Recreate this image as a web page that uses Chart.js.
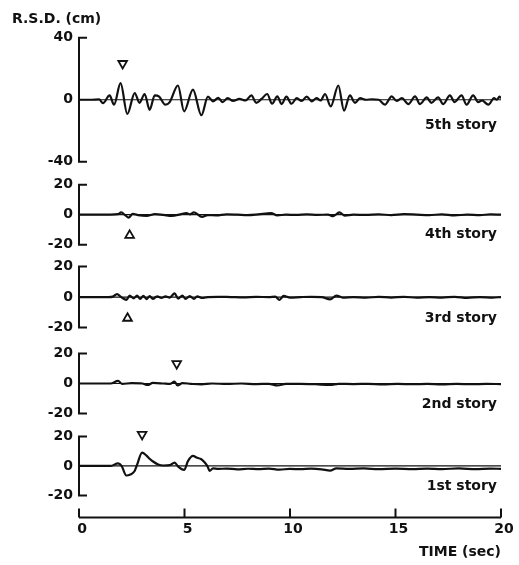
<!DOCTYPE html>
<html>
<head>
<meta charset="utf-8">
<script src="https://cdn.jsdelivr.net/npm/chart.js@4.4.0/dist/chart.umd.min.js"></script>
<style>
  html, body { margin: 0; padding: 0; background: #fff; }
  canvas { display: block; }
</style>
</head>
<body>
<canvas id="rsd" width="519" height="565"></canvas>
<script>
// Relative story displacement traces, [time (sec), R.S.D. (cm)]
const story5 = [[0,0],[0.6,0],[0.95,0.2],[1.14,-2.2],[1.45,2.8],[1.66,-3.2],[1.97,10.7],[2.29,-9.2],[2.64,4.3],[2.87,-2],[3.11,3.7],[3.35,-6.5],[3.59,2.8],[3.8,2.0],[4.09,-3.2],[4.3,-1.5],[4.69,9.2],[4.98,-7.5],[5.4,6.5],[5.8,-10],[6.11,2],[6.35,-1],[6.6,1.2],[6.8,-1.5],[7.05,1],[7.3,-0.8],[7.6,0.5],[7.9,-0.5],[8.17,2.8],[8.4,-2],[8.65,0.5],[8.92,3.7],[9.15,-2.6],[9.4,2.2],[9.6,-2.8],[9.83,2],[10.07,-2.6],[10.32,1],[10.55,-0.8],[10.79,2],[11.03,-1],[11.26,1],[11.45,-0.5],[11.66,3.7],[11.93,-4.3],[12.29,9.2],[12.56,-7],[12.84,2.8],[13.08,-2],[13.32,1],[13.6,0],[13.9,0.3],[14.2,0],[14.5,-3.2],[14.82,2.2],[15.05,-0.8],[15.3,1],[15.61,-2.8],[15.93,2.2],[16.16,-2.8],[16.48,1.5],[16.7,-2],[17.02,1.5],[17.26,-2.8],[17.58,2.8],[17.8,-1.5],[18.13,2.8],[18.37,-3.2],[18.68,2.8],[18.92,-1.5],[19.1,-0.5],[19.4,-3.2],[19.67,1],[19.8,0],[19.93,2],[20,1]];
const story4 = [[0,0],[1.5,0],[1.85,0.3],[2.0,1.5],[2.2,-0.5],[2.35,-2],[2.55,0.5],[2.8,-0.3],[3.2,-0.8],[3.6,0.3],[4.0,-0.2],[4.4,-0.8],[4.8,0.2],[5.09,1.1],[5.25,0.2],[5.45,1.5],[5.83,-1.5],[6.1,-0.3],[6.5,-0.5],[7.0,0.2],[7.5,0],[8.0,-0.3],[8.5,0.2],[9.1,1],[9.4,-0.5],[9.8,0],[10.3,-0.2],[10.8,0.2],[11.3,-0.1],[11.8,0],[12.05,-1],[12.34,1.5],[12.6,-0.6],[13.0,0],[13.6,-0.2],[14.2,0.2],[14.8,-0.3],[15.4,0.3],[16.0,0],[16.6,-0.3],[17.2,0.2],[17.8,-0.5],[18.4,0],[19.0,-0.3],[19.5,0.2],[20,0]];
const story3 = [[0,0],[1.4,0],[1.6,0.3],[1.8,2],[2.0,0],[2.25,-1.8],[2.4,1],[2.6,-0.8],[2.75,1],[2.9,-1.2],[3.05,0.8],[3.2,-1.3],[3.35,0.6],[3.5,-1.2],[3.7,0.5],[3.9,-0.5],[4.1,0.4],[4.3,-0.3],[4.53,2.4],[4.7,-1],[4.9,1],[5.05,-1.2],[5.25,0.6],[5.45,-1.2],[5.6,0.5],[5.85,-0.6],[6.1,0],[6.6,0.2],[7.2,0],[7.8,-0.2],[8.4,0.1],[9.0,0],[9.3,0.3],[9.5,-1.8],[9.7,0.8],[10.0,-0.3],[10.5,0],[11.0,0.2],[11.5,0],[11.9,-1.5],[12.2,1],[12.5,-0.3],[13.0,0],[13.6,-0.4],[14.2,0.2],[14.8,-0.3],[15.4,0.2],[16.0,-0.4],[16.6,0],[17.2,-0.3],[17.8,0.2],[18.4,-0.5],[19.0,0],[19.6,-0.3],[20,0]];
const story2 = [[0,0],[1.5,0],[1.85,1.8],[2.05,-0.3],[2.5,0.3],[3.0,0],[3.25,-1],[3.5,0.4],[4.0,0],[4.3,-0.3],[4.53,1.3],[4.67,-1.3],[4.9,0.3],[5.3,-0.2],[5.8,-0.6],[6.3,0],[7.0,-0.3],[7.7,0],[8.4,-0.4],[9.0,-0.2],[9.4,-1.3],[9.8,-0.3],[10.5,-0.2],[11.2,-0.5],[11.9,-1],[12.3,-0.2],[13.0,-0.4],[13.7,-0.2],[14.4,-0.6],[15.1,-0.3],[15.8,-0.5],[16.5,-0.2],[17.2,-0.6],[17.9,-0.3],[18.6,-0.5],[19.3,-0.2],[20,-0.4]];
const story1 = [[0,0],[1.5,0],[1.85,1.8],[2.02,0],[2.24,-6.5],[2.46,-5.6],[2.62,-3.8],[2.75,0.7],[2.99,9],[3.2,7],[3.36,4.7],[3.51,3],[3.75,1],[4.0,0.3],[4.3,0.5],[4.53,2.3],[4.7,-0.5],[4.98,-2.7],[5.17,3.4],[5.4,6.8],[5.6,5.5],[5.78,4.7],[5.95,2.5],[6.1,-0.5],[6.19,-3.4],[6.35,-1.6],[6.6,-2],[7.0,-1.8],[7.5,-2.3],[8.0,-1.9],[8.5,-2.2],[9.0,-1.8],[9.5,-2.5],[10,-2],[10.5,-2.2],[11,-1.8],[11.5,-2.3],[11.9,-3.2],[12.2,-1.7],[12.8,-2],[13.5,-1.7],[14.2,-2.2],[15,-1.8],[15.8,-2.2],[16.5,-1.8],[17.2,-2.1],[18,-1.7],[18.8,-2.2],[19.5,-1.8],[20,-2]];

// peak markers (5th .. 1st story)
const markerTimes = [2.07, 2.4, 2.3, 4.63, 2.99];
const markerValues = [23.4, -13.8, -13.9, 13.3, 21.4];
const markerDown = [true, false, false, true, true];

const storyLabels = ['5th story', '4th story', '3rd story', '2nd story', '1st story'];
const yTicksTop = [-40, 0, 40];
const yTicksLower = [-20, 0, 20];
const xTicks = [0, 5, 10, 15, 20];

const FONT = 'DejaVu Sans';
const INK = '#111';

// panel layout, top to bottom; weight = share of plot height
const panels = [
    { id: 'y5', data: story5, weight: 141.5, min: -47.42, max: 43.87, ticks: yTicksTop, labelDy: 26 },
    { id: 'y4', data: story4, weight: 82.5, min: -27.33, max: 27.67, ticks: yTicksLower, labelDy: 20 },
    { id: 'y3', data: story3, weight: 85, min: -28.52, max: 27.21, ticks: yTicksLower, labelDy: 21 },
    { id: 'y2', data: story2, weight: 84.5, min: -27.67, max: 28.67, ticks: yTicksLower, labelDy: 21 },
    { id: 'y1', data: story1, weight: 92.5, min: -34.92, max: 27.8, ticks: yTicksLower, labelDy: 20 }
];

const toPoints = arr => arr.map(p => ({ x: p[0], y: p[1] }));

const datasets = [];
const scales = {
    x: {
        type: 'linear',
        min: 0,
        max: 20,
        afterBuildTicks: s => { s.ticks = xTicks.map(v => ({ value: v })); },
        grid: { display: false, drawTicks: false },
        border: { display: false },
        ticks: { color: INK, padding: 4, labelOffset: 3, font: { family: FONT, size: 14, weight: 'bold' } },
        title: {
            display: true,
            text: 'TIME (sec)',
            align: 'end',
            color: INK,
            padding: { top: 2, bottom: 0 },
            font: { family: FONT, size: 14, weight: 'bold' }
        }
    }
};

// left boxes are placed in reverse order, so add the bottom panel first
panels.slice().reverse().forEach(p => {
    scales[p.id] = {
        type: 'linear',
        position: 'left',
        stack: 'rsd',
        stackWeight: p.weight,
        min: p.min,
        max: p.max,
        afterBuildTicks: s => { s.ticks = p.ticks.map(v => ({ value: v })); },
        afterFit: s => { s.width = 67; },
        grid: { display: false, drawTicks: false },
        border: { display: false },
        ticks: { color: INK, padding: 6, font: { family: FONT, size: 14, weight: 'bold' } }
    };
});

panels.forEach((p, i) => {
    // zero line
    datasets.push({
        data: [{ x: 0, y: 0 }, { x: 20, y: 0 }],
        yAxisID: p.id,
        borderColor: INK,
        borderWidth: 1.2,
        pointRadius: 0
    });
    datasets.push({
        data: toPoints(p.data),
        yAxisID: p.id,
        borderColor: INK,
        borderWidth: 2.2,
        pointRadius: 0,
        cubicInterpolationMode: 'monotone'
    });
    datasets.push({
        data: [{ x: markerTimes[i], y: markerValues[i] }],
        yAxisID: p.id,
        showLine: false,
        pointStyle: 'triangle',
        rotation: markerDown[i] ? 180 : 0,
        pointRadius: 5,
        borderWidth: 1.8,
        borderColor: INK,
        backgroundColor: '#fff',
        clip: false
    });
});

// axis brackets, x axis line and story labels
const frame = {
    id: 'frame',
    afterDraw(chart) {
        const { ctx, chartArea } = chart;
        const left = chartArea.left;
        ctx.save();
        ctx.strokeStyle = INK;
        ctx.lineWidth = 2;
        ctx.fillStyle = INK;
        ctx.font = 'bold 14px ' + FONT;
        ctx.textAlign = 'right';
        ctx.textBaseline = 'middle';

        panels.forEach((p, i) => {
            const s = chart.scales[p.id];
            const lim = p.ticks[p.ticks.length - 1];
            const top = s.getPixelForValue(lim);
            const bot = s.getPixelForValue(-lim);
            ctx.beginPath();
            ctx.moveTo(left + 8, top);
            ctx.lineTo(left, top);
            ctx.lineTo(left, bot);
            ctx.lineTo(left + 8, bot);
            ctx.stroke();
            ctx.fillText(storyLabels[i], chartArea.right - 4, s.getPixelForValue(0) + p.labelDy);
        });

        const xs = chart.scales.x;
        const y0 = chartArea.bottom;
        ctx.beginPath();
        ctx.moveTo(xs.getPixelForValue(0), y0);
        ctx.lineTo(xs.getPixelForValue(20), y0);
        xTicks.forEach(v => {
            const px = xs.getPixelForValue(v);
            ctx.moveTo(px, y0);
            ctx.lineTo(px, y0 - 9);
        });
        ctx.stroke();
        ctx.restore();
    }
};

new Chart(document.getElementById('rsd'), {
    type: 'line',
    data: { datasets },
    options: {
        responsive: false,
        animation: false,
        layout: { padding: { left: 12, right: 18, top: 0, bottom: 4 } },
        plugins: {
            legend: { display: false },
            tooltip: { enabled: false },
            title: {
                display: true,
                text: 'R.S.D. (cm)',
                align: 'start',
                color: INK,
                padding: { top: 11, bottom: 4 },
                font: { family: FONT, size: 14, weight: 'bold' }
            }
        },
        scales
    },
    plugins: [frame]
});
</script>
</body>
</html>
